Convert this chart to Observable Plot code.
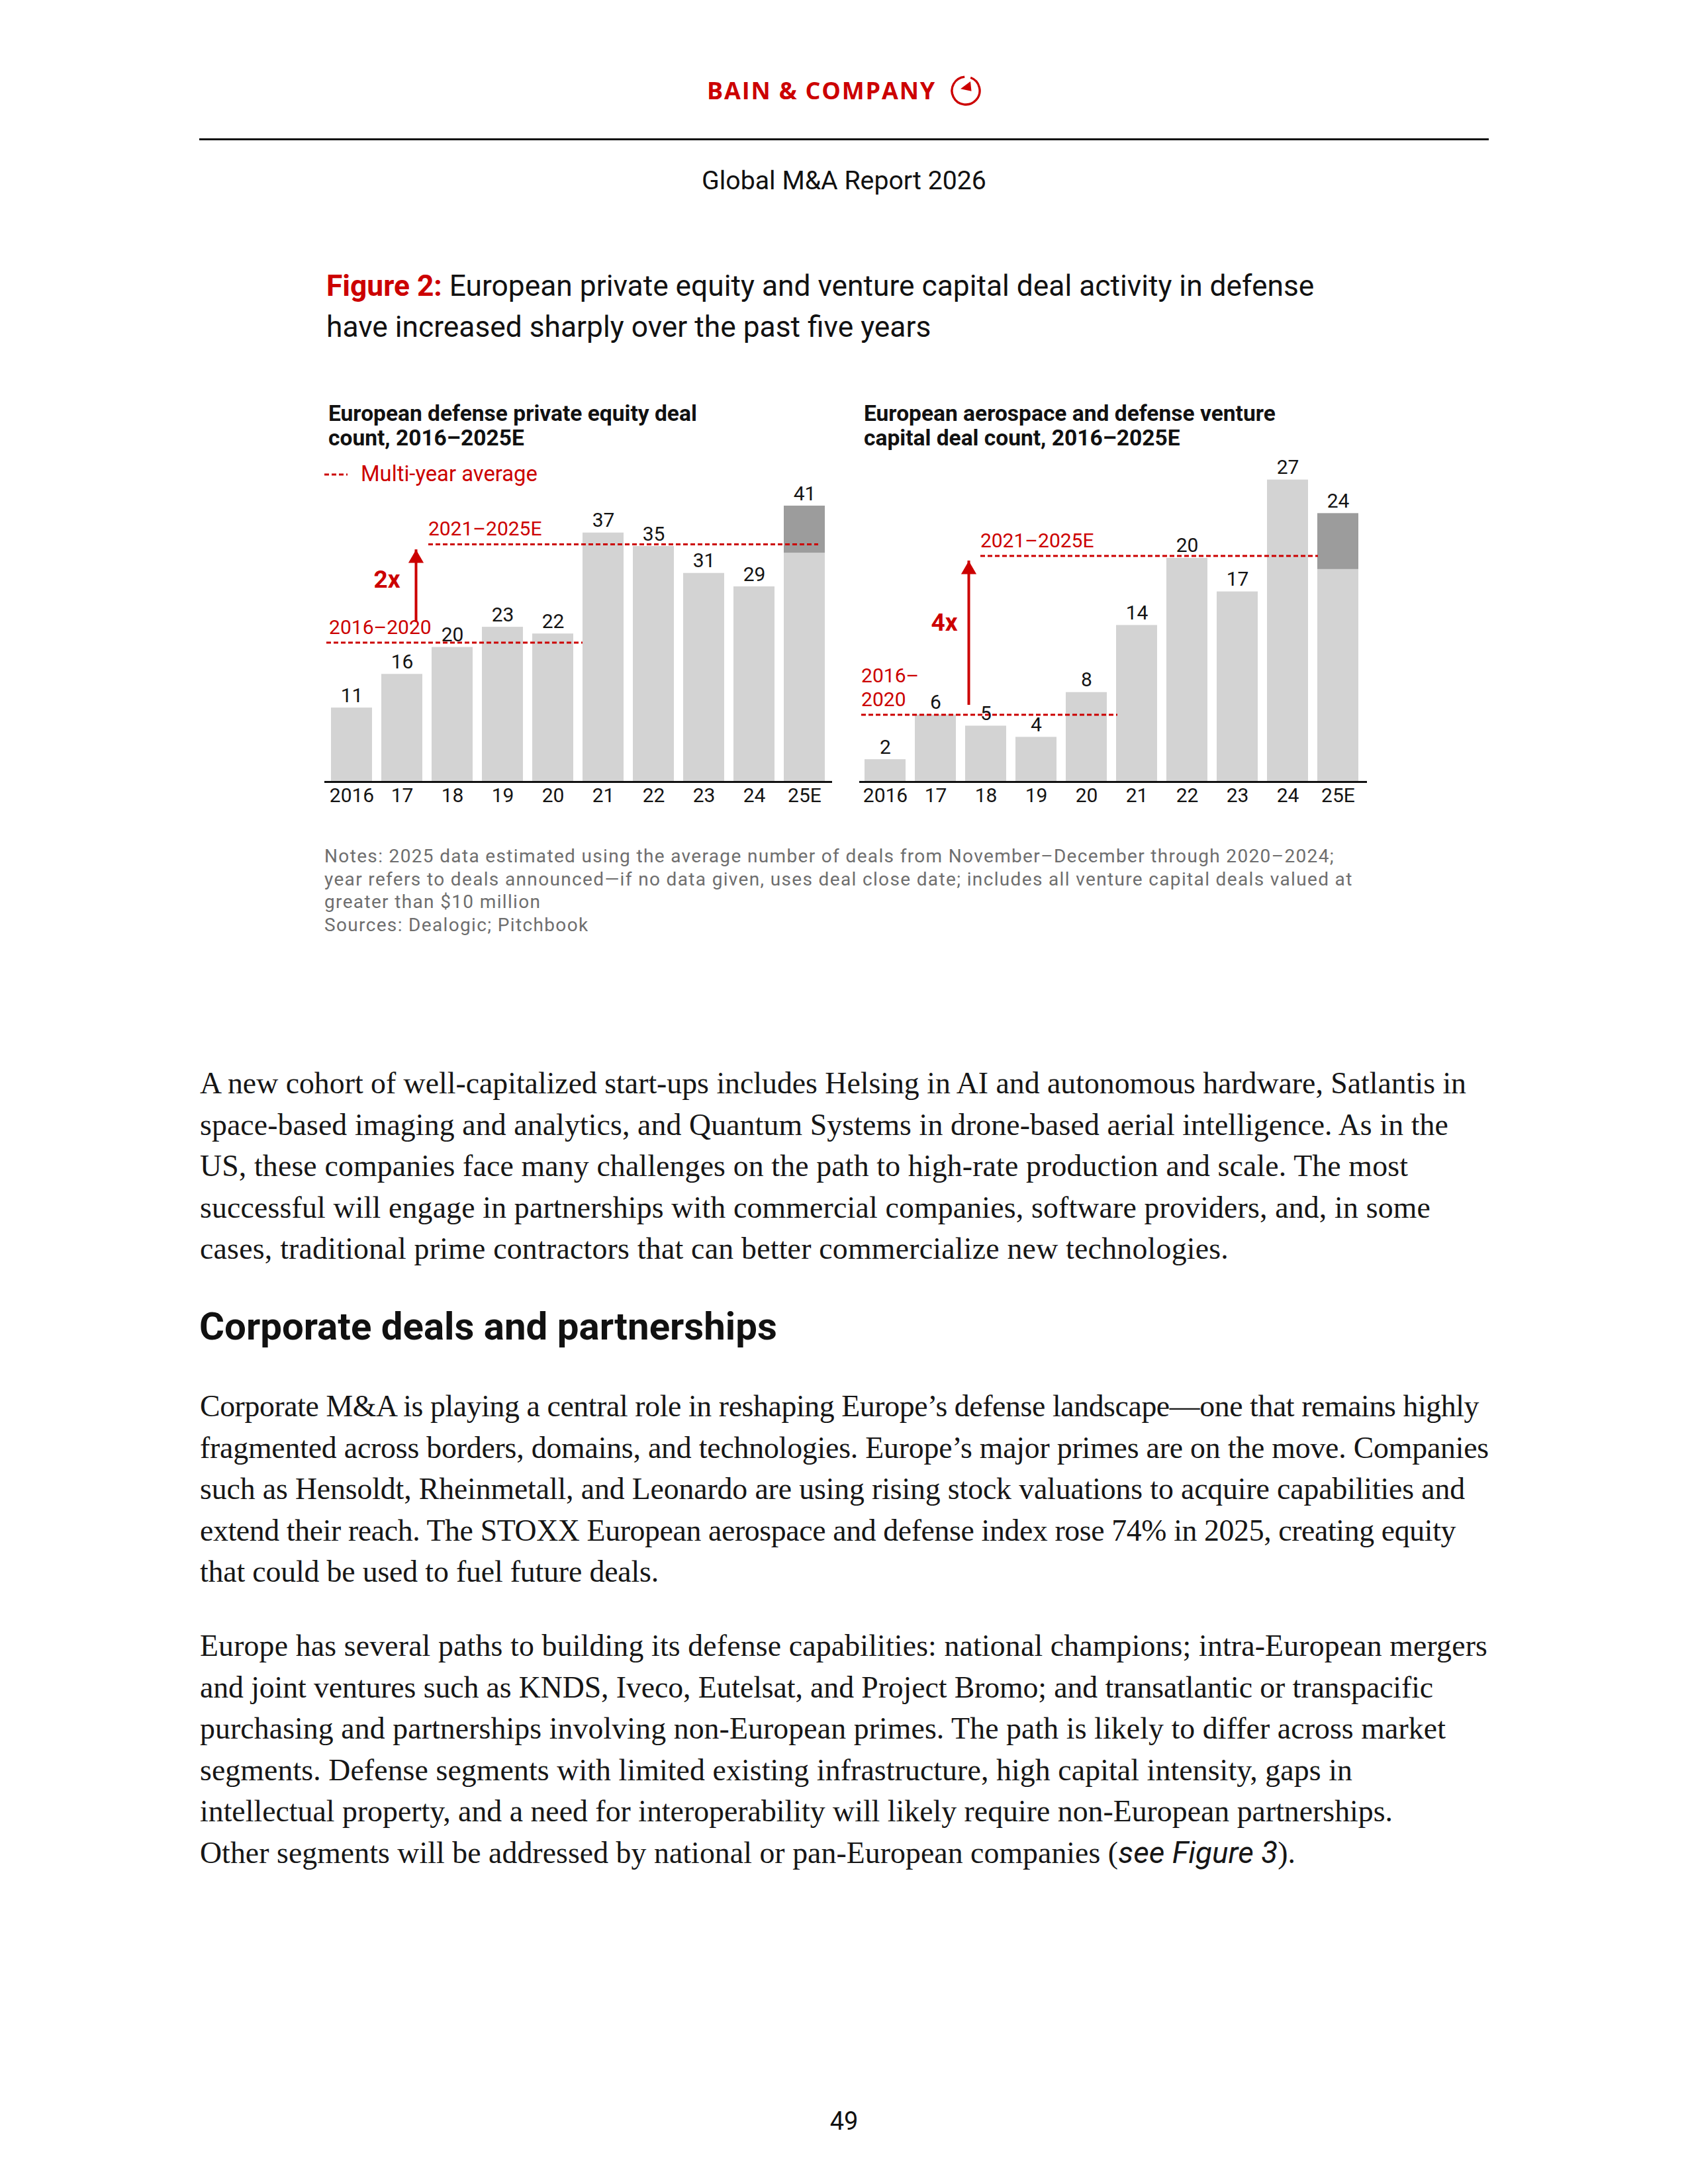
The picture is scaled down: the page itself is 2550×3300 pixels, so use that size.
<!DOCTYPE html>
<html>
<head>
<meta charset="utf-8">
<script src="https://cdn.jsdelivr.net/npm/d3@7"></script>
<script src="https://cdn.jsdelivr.net/npm/@observablehq/plot@0.6"></script>
<style>
html, body { margin: 0; padding: 0; background: #fff; }
#page { position: relative; width: 2550px; height: 3300px; overflow: hidden; background: #fff; }
.t { position: absolute; white-space: nowrap; margin: 0; line-height: 1.2; }
.chart { position: absolute; }
</style>
</head>
<body>
<div id="page"></div>
<script>
// ---------------- DATA ----------------
const years = ["2016", "17", "18", "19", "20", "21", "22", "23", "24", "25E"];
// European defense private equity deal count
const peDeals = [11, 16, 20, 23, 22, 37, 35, 31, 29, 41];
const peReported25E = 34;          // lighter part of the 2025E bar (rest is estimate)
const peAverages = [20.7, 35.3];   // multi-year average lines as drawn
// European aerospace & defense venture capital deal count
const vcDeals = [2, 6, 5, 4, 8, 14, 20, 17, 27, 24];
const vcReported25E = 19;
const vcAverages = [6.0, 20.2];
const periodLabels = ["2016–2020", "2021–2025E"];
const multiples = ["2x", "4x"];
// arrow extents (value units)
const peArrow = [24.7, 34.5];
const vcArrow = [7.46, 19.76];

const titleLines = [
  '<span style="color:#cc0000;font-weight:700">Figure 2:</span> European private equity and venture capital deal activity in defense',
  'have increased sharply over the past five years'
];
const leftTitle = ["European defense private equity deal", "count, 2016–2025E"];
const rightTitle = ["European aerospace and defense venture", "capital deal count, 2016–2025E"];
const notes = [
  "Notes: 2025 data estimated using the average number of deals from November–December through 2020–2024;",
  "year refers to deals announced—if no data given, uses deal close date; includes all venture capital deals valued at",
  "greater than $10 million",
  "Sources: Dealogic; Pitchbook"
];
const para1 = [
  "A new cohort of well-capitalized start-ups includes Helsing in AI and autonomous hardware, Satlantis in",
  "space-based imaging and analytics, and Quantum Systems in drone-based aerial intelligence. As in the",
  "US, these companies face many challenges on the path to high-rate production and scale. The most",
  "successful will engage in partnerships with commercial companies, software providers, and, in some",
  "cases, traditional prime contractors that can better commercialize new technologies."
];
const heading = "Corporate deals and partnerships";
const para2 = [
  "Corporate M&amp;A is playing a central role in reshaping Europe’s defense landscape—one that remains highly",
  "fragmented across borders, domains, and technologies. Europe’s major primes are on the move. Companies",
  "such as Hensoldt, Rheinmetall, and Leonardo are using rising stock valuations to acquire capabilities and",
  "extend their reach. The STOXX European aerospace and defense index rose 74% in 2025, creating equity",
  "that could be used to fuel future deals."
];
const para3 = [
  "Europe has several paths to building its defense capabilities: national champions; intra-European mergers",
  "and joint ventures such as KNDS, Iveco, Eutelsat, and Project Bromo; and transatlantic or transpacific",
  "purchasing and partnerships involving non-European primes. The path is likely to differ across market",
  "segments. Defense segments with limited existing infrastructure, high capital intensity, gaps in",
  "intellectual property, and a need for interoperability will likely require non-European partnerships.",
  'Other segments will be addressed by national or pan-European companies (<span style="font-family:Roboto;font-style:italic">see Figure 3</span>).'
];
// right ends of each body line in the reference (page px)
const p1Ends = [2215, 2188, 2127, 2161, 1856];
const p2Ends = [2234, 2249, 2213, 2199, 995];
const p3Ends = [2247, 2165, 2184, 2043, 2104, 1957];

// ---------------- STYLE ----------------
const RED = "#cc0000";
const SANS = "Roboto, 'Liberation Sans', sans-serif";
const SERIF = "'Liberation Serif', serif";
const page = document.getElementById("page");

function addLine(html, o) {
  const d = document.createElement("div");
  d.className = "t";
  d.style.fontFamily = o.font;
  d.style.fontSize = o.size + "px";
  d.style.color = o.color || "#111";
  d.style.fontWeight = o.weight || 400;
  d.style.letterSpacing = (o.ls || 0) + "px";
  d.innerHTML = html;
  page.appendChild(d);
  return d;
}
const wOf = el => el.getBoundingClientRect().width;
function fitSize(els, ref, target) {
  const f = target / wOf(ref);
  els.forEach(e => e.style.fontSize = (parseFloat(e.style.fontSize) * f) + "px");
}
function fitSpacing(els, ref, target) {
  const n = ref.textContent.length;
  const ls = (target - wOf(ref)) / n;
  els.forEach(e => e.style.letterSpacing = ls + "px");
}
function place(el, x, base, anchor) {
  el.style.left = "0px"; el.style.top = "0px";
  const m = document.createElement("span");
  m.style.cssText = "display:inline-block;width:0;height:0;";
  el.appendChild(m);
  const b = m.getBoundingClientRect().top - el.getBoundingClientRect().top;
  m.remove();
  const w = wOf(el);
  const left = anchor === "middle" ? x - w / 2 : anchor === "end" ? x - w : x;
  el.style.left = left + "px";
  el.style.top = (base - b) + "px";
}
function block(lines, o, x, base0, lh) {
  const els = lines.map(h => addLine(h, o));
  return {els, lay: () => els.forEach((e, i) => place(e, x, base0 + i * lh))};
}

// ---------------- HEADER ----------------
const logo = addLine("BAIN &amp; COMPANY", {font: "'Open Sans', sans-serif", size: 36, color: RED, weight: 700});
fitSpacing([logo], logo, 346);
place(logo, 1068, 150);
const icon = document.createElementNS("http://www.w3.org/2000/svg", "svg");
icon.setAttribute("width", 48); icon.setAttribute("height", 48);
icon.style.cssText = "position:absolute;left:1435px;top:113px;";
icon.innerHTML = '<path d="M31.18 4.27 A21 21 0 1 1 22.17 3.08" fill="none" stroke="' + RED + '" stroke-width="3.4"/>' +
  '<path d="M16 21.3 L31 10 L32.5 24.8 Z" fill="' + RED + '"/>';
page.appendChild(icon);
const rule = document.createElement("div");
rule.style.cssText = "position:absolute;left:301px;top:209px;width:1948px;height:3px;background:#111;";
page.appendChild(rule);
const report = addLine("Global M&amp;A Report 2026", {font: SANS, size: 38, color: "#111"});
fitSize([report], report, 430);
place(report, 1275, 286, "middle");

// ---------------- FIGURE TITLE ----------------
const tb = block(titleLines, {font: SANS, size: 42, color: "#111"}, 493, 447, 61.5);
fitSize(tb.els, tb.els[0], 1493); tb.lay();

const lt = block(leftTitle, {font: SANS, size: 30, color: "#111", weight: 700}, 496, 636, 37);
const rt = block(rightTitle, {font: SANS, size: 30, color: "#111", weight: 700}, 1305, 636, 37);
fitSize(lt.els.concat(rt.els), lt.els[0], 557); lt.lay(); rt.lay();

// legend
const leg = document.createElementNS("http://www.w3.org/2000/svg", "svg");
leg.setAttribute("width", 40); leg.setAttribute("height", 10);
leg.style.cssText = "position:absolute;left:489px;top:712px;";
leg.innerHTML = '<line x1="1" y1="5" x2="36" y2="5" stroke="' + RED + '" stroke-width="3" stroke-dasharray="7,4"/>';
page.appendChild(leg);
const legText = addLine("Multi-year average", {font: SANS, size: 30, color: RED});
fitSize([legText], legText, 267);
place(legText, 545, 727);

// ---------------- CHARTS ----------------
function barRows(deals, reported) {
  const rows = [];
  years.forEach((yr, i) => {
    const est = yr === "25E";
    rows.push({year: yr, lo: 0, hi: est ? reported : deals[i], kind: "reported"});
    if (est) rows.push({year: yr, lo: reported, hi: deals[i], kind: "estimated"});
  });
  return rows;
}
function drawChart(c) {
  const rows = barRows(c.deals, c.reported);
  const totals = years.map((yr, i) => ({year: yr, value: c.deals[i]}));
  const lab = (extra) => Object.assign({lineAnchor: "bottom", fill: RED, fontSize: 30}, extra);
  const avgRule = (row, inset) => Plot.ruleY([row], {y: "v", x1: "from", x2: "to", stroke: RED, strokeWidth: 3,
    strokeDasharray: "7,4", insetLeft: inset[0], insetRight: inset[1]});
  const marks = [
    Plot.barY(rows, {x: "year", y1: "lo", y2: "hi", fill: d => d.kind === "estimated" ? "#9c9c9c" : "#d3d3d3"}),
    Plot.ruleY([0], {stroke: "#111", strokeWidth: 3, insetLeft: c.axisInset[0], insetRight: c.axisInset[1]}),
    avgRule({v: c.avgs[0], from: years[0], to: years[4]}, c.avgInset[0]),
    avgRule({v: c.avgs[1], from: c.avg2From, to: c.avg2To}, c.avgInset[1]),
    Plot.ruleX([{year: c.arrowYear, lo: c.arrow[0], hi: c.arrow[1]}], {x: "year", y1: "lo", y2: "hi", dx: c.arrowDx,
      stroke: RED, strokeWidth: 4, insetTop: 10}),
    Plot.dot([{year: c.arrowYear, v: c.arrow[1]}], {x: "year", y: "v", dx: c.arrowDx, dy: 13.3, symbol: "triangle",
      r: 8.6, fill: RED, stroke: null}),
    Plot.text(totals, {x: "year", y: "value", text: d => String(d.value), dy: -9, lineAnchor: "bottom", fontSize: 30, fill: "#141414"}),
    Plot.text(years, {x: d => d, text: d => d, frameAnchor: "bottom", dy: 30, lineAnchor: "bottom", fontSize: 30, fill: "#141414"}),
    Plot.text([c.lab1], lab({x: "year", y: "y", text: "t", dx: c.lab1.dx, textAnchor: "start", lineHeight: 1.23})),
    Plot.text([c.lab2], lab({x: "year", y: "y", text: "t", dx: c.lab2.dx, textAnchor: "start"})),
    Plot.text([c.mult], lab({x: "year", y: "y", text: "t", dx: c.mult.dx, textAnchor: "middle", fontSize: 37, fontWeight: 700}))
  ];
  const svg = Plot.plot({
    width: 800, height: 580,
    marginTop: 43, marginBottom: 59, marginLeft: c.mL, marginRight: c.mR,
    x: {type: "band", domain: years, paddingInner: 0.18, paddingOuter: 0, axis: null},
    y: {domain: [0, c.yMax], axis: null},
    style: "font-family: Roboto, sans-serif; background: transparent; overflow: visible;",
    marks
  });
  const holder = document.createElement("div");
  holder.className = "chart";
  holder.style.left = c.left + "px"; holder.style.top = "660px";
  holder.style.width = "800px"; holder.style.height = "580px";
  holder.appendChild(svg);
  page.appendChild(holder);
}

drawChart({
  left: 470, mL: 27, mR: 21, yMax: 47,
  deals: peDeals, reported: peReported25E, avgs: peAverages,
  axisInset: [-7, -8],
  avg2From: "18", avg2To: "25E",
  avgInset: [[-7, -14], [-5, 10]],
  arrow: peArrow, arrowYear: "17", arrowDx: 21,
  lab1: {year: "2016", y: 22.0, t: periodLabels[0], dx: -34.4},
  lab2: {year: "18", y: 36.6, t: periodLabels[1], dx: -36.6},
  mult: {year: "17", y: 28.9, t: multiples[0], dx: -23}
});
drawChart({
  left: 1280, mL: 23, mR: 25, yMax: 28.28,
  deals: vcDeals, reported: vcReported25E, avgs: vcAverages,
  axisInset: [-5, -10],
  avg2From: "18", avg2To: "24",
  avgInset: [[-5, -16], [23, -15]],
  arrow: vcArrow, arrowYear: "18", arrowDx: -26,
  lab1: {year: "2016", y: 6.75, t: "2016–\n2020", dx: -36.4},
  lab2: {year: "18", y: 20.96, t: periodLabels[1], dx: -8.6},
  mult: {year: "17", y: 13.5, t: multiples[1], dx: 13}
});

// ---------------- NOTES ----------------
const nb = block(notes, {font: SANS, size: 28, color: "#6e6e6e"}, 490, 1303, 34.5);
fitSpacing(nb.els, nb.els[0], 1526); nb.lay();

// ---------------- BODY ----------------
const p1 = block(para1, {font: SERIF, size: 40, color: "#161616"}, 302, 1652, 62.6);
const p2 = block(para2, {font: SERIF, size: 40, color: "#161616"}, 302, 2140, 62.6);
const p3 = block(para3, {font: SERIF, size: 40, color: "#161616"}, 302, 2502, 62.6);
fitSize(p1.els.concat(p2.els, p3.els), p1.els[0], 1913);
[[p1, p1Ends], [p2, p2Ends], [p3, p3Ends]].forEach(([p, ends]) =>
  p.els.forEach((e, i) => fitSpacing([e], e, ends[i] - 302)));
p1.lay(); p2.lay(); p3.lay();
const hd = addLine(heading, {font: SANS, size: 52, color: "#111", weight: 700});
fitSize([hd], hd, 873);
place(hd, 301, 2024);

const pn = addLine("49", {font: SANS, size: 38, color: "#111"});
place(pn, 1275, 3218, "middle");
</script>
</body>
</html>
